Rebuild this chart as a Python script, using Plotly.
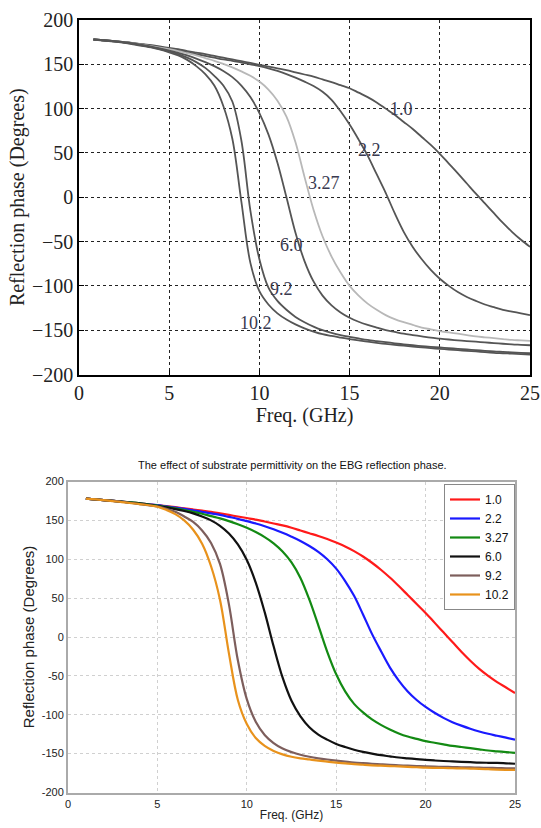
import plotly.graph_objects as go

# ---------------- data ----------------
freq_top = [0.8, 2, 3, 4, 5, 5.5, 6, 6.5, 7, 7.5, 8, 8.5, 9, 9.5, 10, 10.5, 11, 11.5, 12, 12.5, 13, 13.5, 14,
            14.5, 15, 15.5, 16, 16.5, 17, 17.5, 18, 18.5, 19, 19.5, 20, 20.5, 21, 21.5, 22, 22.5, 23, 23.5, 24, 24.5, 25]
freq_bottom = [1.0, 2, 3, 4, 5, 5.5, 6, 6.5, 7, 7.5, 8, 8.5, 9, 9.5, 10, 10.5, 11, 11.5, 12, 12.5, 13, 13.5, 14,
               14.5, 15, 15.5, 16, 16.5, 17, 17.5, 18, 18.5, 19, 19.5, 20, 20.5, 21, 21.5, 22, 22.5, 23, 23.5, 24, 24.5, 25]

permittivity = ["1.0", "2.2", "3.27", "6.0", "9.2", "10.2"]

# top panel (grey curves)
top_1_0 = [178, 176, 174, 171.5, 168.5, 167, 165, 163.2, 161.5, 159.5, 157.5, 155.5, 153.5, 151.5, 149.5, 147.5,
           145.5, 143.5, 141, 138.5, 136, 133, 130,
           126.5, 123, 118, 113, 107, 100, 93, 85, 77, 68, 59, 49, 38, 27, 15.5, 4, -7, -18, -29, -39, -48, -56]
top_2_2 = [178, 176, 174, 171, 167.5, 165.5, 163.5, 161.5, 159.5, 157.5, 155.5, 154, 152, 150, 148, 145.5,
           142.5, 139, 135, 130.5, 125.5, 119, 110,
           97, 82, 65, 47, 26, 5, -18, -39, -56, -70, -82, -92, -100, -107, -112.5, -117, -121, -124, -127, -129, -131, -133]
top_3_27 = [178, 176, 173.5, 170.5, 167, 165, 162.5, 160, 157, 154, 150.5, 146.5, 142, 137, 130.5, 121.5,
            109, 91, 62, 23, -14, -44, -67,
            -85, -100, -111, -120, -127, -133, -137.5, -141, -144, -147, -149, -151, -152.5, -154, -155.5, -157, -158,
            -159, -160, -161, -161.5, -162]
top_6_0 = [178, 176, 173.5, 170, 165.5, 163, 160, 156.5, 152.5, 148, 142.5, 135.5, 126, 113, 95, 71,
           39, 0, -40, -72, -95, -111, -122,
           -130, -136, -140.5, -144, -147, -150, -152, -154, -155.5, -157, -158.5, -159.5, -160.5, -161.5, -162.3, -163,
           -163.8, -164.5, -165.3, -166, -166.5, -167]
top_9_2 = [178, 176, 173, 169.5, 164.5, 161.5, 157.5, 152.5, 146, 137, 126, 108, 64, -15, -70, -102,
           -117, -127, -135, -141, -146, -150, -153,
           -155.5, -157.5, -159.3, -161, -162.3, -163.5, -164.8, -166, -167, -168, -168.8, -169.5, -170.3, -171, -171.8,
           -172.5, -173.3, -174, -174.5, -175, -175.5, -176]
top_10_2 = [178, 175.5, 172.5, 169, 163.5, 160, 155, 148, 139, 126, 103, 66, -5, -74, -106, -121,
            -131, -138, -143.5, -148, -151.5, -154.5, -156.5,
            -158.3, -160, -161.5, -163, -164.3, -165.5, -166.5, -167.5, -168.5, -169.5, -170.3, -171, -171.8, -172.5,
            -173.3, -174, -174.8, -175.5, -176, -176.5, -177, -177.5]

# bottom panel (coloured curves)
bot_1_0 = [178, 176, 174, 172, 169.5, 168.3, 167, 165.5, 164, 162.5, 161, 159, 157, 155, 153, 151,
           148.5, 146, 143.5, 140.5, 137, 133.5, 130,
           126, 121.5, 116.5, 110.5, 103.5, 95.5, 86.5, 76.5, 65.5, 54, 42.5, 31, 18.5, 6, -6.5, -19, -30.5, -41, -50,
           -58, -65, -72]
bot_2_2 = [178, 176, 174, 172, 169.5, 168, 166.5, 164.8, 163, 161, 159, 157, 154.5, 152, 149, 146,
           142.5, 138.5, 134, 129, 123.5, 117, 109.5,
           100, 88, 72, 53, 29, 4, -18, -39, -56, -70, -81, -90, -97.5, -104, -109.5, -114, -118, -121.5, -124.5, -127,
           -129.5, -132]
bot_3_27 = [178, 176, 174, 172, 169, 167.3, 165.5, 163.3, 161, 158.5, 155.5, 152.5, 149, 145, 140.5, 135,
            128.5, 120.5, 110, 96, 76, 48, 15,
            -19, -48, -70, -86, -97, -106, -113, -119, -124, -128, -131, -134, -136, -138, -140, -141.5, -143, -144.5,
            -146, -147, -148, -149]
bot_6_0 = [178, 176, 174, 171.5, 168.5, 166.7, 164.5, 162, 159, 155, 150, 143, 133, 119, 99, 70,
           32, -12, -52, -82, -102, -116, -125.5,
           -132, -137.5, -141.5, -145, -147.7, -150, -152, -153.5, -155, -156, -157, -158, -158.8, -159.5, -160, -160.5,
           -161, -161.5, -161.8, -162, -162.5, -163]
bot_9_2 = [178, 176, 174, 171, 168, 165, 161, 155, 148, 137, 121, 94, 42, -30, -80, -109,
           -126, -136.5, -143.5, -148, -151.5, -154, -156,
           -157.6, -159, -160.3, -161.5, -162.3, -163, -163.8, -164.5, -165, -165.5, -166, -166.5, -166.8, -167, -167.3,
           -167.5, -167.8, -168, -168.3, -168.5, -168.8, -169]
bot_10_2 = [178, 176, 173.5, 171, 167.5, 163.5, 158, 150, 138, 120, 91, 48, -21, -81, -112, -130,
            -140, -146.5, -151, -154, -156, -157.5, -159,
            -160.3, -161.5, -162.5, -163.5, -164.3, -165, -165.5, -166, -166.5, -167, -167.5, -168, -168.3, -168.5,
            -168.8, -169, -169.3, -169.5, -170, -170.5, -170.8, -171]

x_ticks = [0, 5, 10, 15, 20, 25]
x_ticktext = ["0", "5", "10", "15", "20", "25"]
y_ticks = [-200, -150, -100, -50, 0, 50, 100, 150, 200]
y_ticktext_bottom = ["-200", "-150", "-100", "-50", "0", "50", "100", "150", "200"]

top_series = [top_1_0, top_2_2, top_3_27, top_6_0, top_9_2, top_10_2]
bot_series = [bot_1_0, bot_2_2, bot_3_27, bot_6_0, bot_9_2, bot_10_2]

# ---------------- styles ----------------
top_colors = ["#555555", "#555555", "#b8b8b8", "#555555", "#555555", "#555555"]
bot_colors = ["#ff1a1a", "#1a1aff", "#138a13", "#111111", "#7d5e5c", "#e8921c"]
# label positions for the top panel (data coordinates)
label_pos = [(17.9, 100), (16.1, 53), (13.6, 16), (11.8, -54), (11.2, -103), (9.8, -142)]

SERIF = "Liberation Serif, Times New Roman, serif"
SANS = "Liberation Sans, Arial, sans-serif"

fig = go.Figure()

for name, ys, col in zip(permittivity, top_series, top_colors):
    fig.add_trace(go.Scatter(x=freq_top, y=ys, mode="lines", name=name, showlegend=False,
                             line=dict(color=col, width=1.8, shape="spline", smoothing=1),
                             xaxis="x", yaxis="y"))

for name, ys, col in zip(permittivity, bot_series, bot_colors):
    fig.add_trace(go.Scatter(x=freq_bottom, y=ys, mode="lines", name=name,
                             line=dict(color=col, width=2.2, shape="spline", smoothing=1),
                             xaxis="x2", yaxis="y2"))

W, H = 541, 828
annotations = []
for name, (lx, ly) in zip(permittivity, label_pos):
    annotations.append(dict(x=lx, y=ly, xref="x", yref="y", text=name, showarrow=False,
                            font=dict(family=SERIF, size=18, color="#3a3a50")))
annotations.append(dict(x=292 / W, y=1 - 465 / H, xref="paper", yref="paper",
                        text="The effect of substrate permittivity on the EBG reflection phase.",
                        showarrow=False, font=dict(family=SANS, size=11, color="#111111")))

fig.update_layout(
    width=W, height=H,
    margin=dict(l=0, r=0, t=0, b=0, autoexpand=False),
    paper_bgcolor="white", plot_bgcolor="white",
    annotations=annotations,
    xaxis=dict(domain=[79 / W, 530 / W], range=[0, 25], tickvals=x_ticks, ticktext=x_ticktext,
               anchor="y", automargin=False, showline=True, linecolor="black", linewidth=1.5, mirror=True,
               showgrid=True, gridcolor="#222222", griddash="dot", gridwidth=1,
               ticks="inside", ticklen=5, tickcolor="black", zeroline=False,
               tickfont=dict(family=SERIF, size=20, color="#222222"),
               title=dict(text="Freq. (GHz)", standoff=0,
                          font=dict(family=SERIF, size=20, color="#222222"))),
    yaxis=dict(domain=[1 - 374.5 / H, 1 - 20 / H], range=[-200, 200], tickvals=y_ticks,
               anchor="x", automargin=False, showline=True, linecolor="black", linewidth=1.5, mirror=True,
               showgrid=True, gridcolor="#222222", griddash="dot", gridwidth=1,
               ticks="inside", ticklen=5, tickcolor="black", zeroline=False,
               tickfont=dict(family=SERIF, size=20, color="#222222"),
               title=dict(text="Reflection phase (Degrees)", standoff=2,
                          font=dict(family=SERIF, size=20, color="#222222"))),
    xaxis2=dict(domain=[68 / W, 515 / W], range=[0, 25], tickvals=x_ticks, ticktext=x_ticktext,
                anchor="y2", automargin=False, showline=True, linecolor="#aaaaaa", linewidth=2, mirror=True,
                showgrid=True, gridcolor="#d0d0d0", griddash="dot", gridwidth=1, zeroline=False,
                ticks="", tickfont=dict(family=SANS, size=11, color="#222222"),
                title=dict(text="Freq. (GHz)", standoff=2,
                           font=dict(family=SANS, size=12, color="#222222"))),
    yaxis2=dict(domain=[1 - 792.5 / H, 1 - 481.5 / H], range=[-200, 200], tickvals=y_ticks,
                ticktext=y_ticktext_bottom, anchor="x2", automargin=False, showline=True, linecolor="#aaaaaa",
                linewidth=2, mirror=True, showgrid=True, gridcolor="#d0d0d0", griddash="dot",
                gridwidth=1, zeroline=False, ticks="",
                tickfont=dict(family=SANS, size=11, color="#222222"),
                title=dict(text="Reflection phase (Degrees)", standoff=4,
                           font=dict(family=SANS, size=15, color="#222222"))),
    legend=dict(x=515 / W, y=1 - 484 / H, xanchor="right", yanchor="top",
                bgcolor="white", bordercolor="#888888", borderwidth=1,
                font=dict(family=SANS, size=12, color="#111111"),
                itemwidth=30, tracegroupgap=0),
)

fig.write_html("out.html", config={"displayModeBar": False},
               post_script="document.body.style.margin='0';document.body.style.overflow='hidden';")
